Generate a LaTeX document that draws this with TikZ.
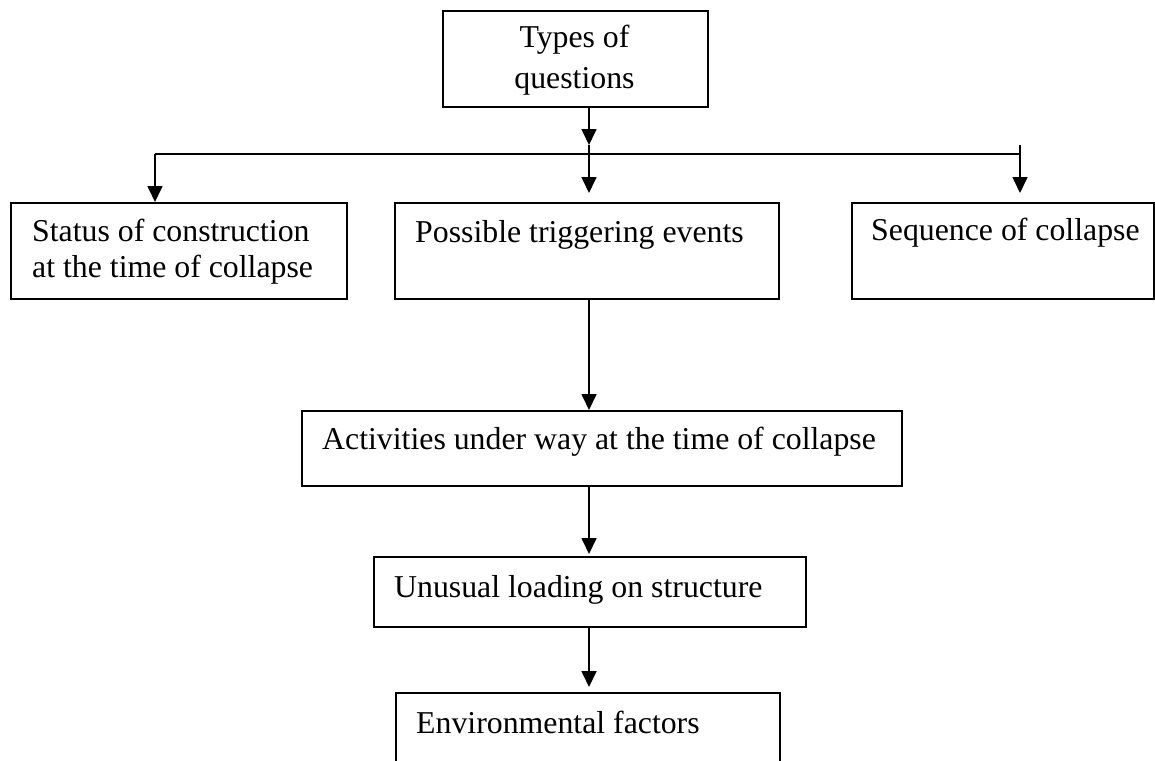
\documentclass[tikz,border=0pt]{standalone}
\usepackage{fontspec}
\setmainfont{Liberation Serif}
\usetikzlibrary{arrows.meta}
\begin{document}
\begin{tikzpicture}[x=1pt,y=-1pt,
  box/.style={draw=black, line width=1.8pt, inner sep=0pt, anchor=north west},
  lbl/.style={inner sep=0pt, anchor=base west, font=\fontsize{31.8pt}{36.5pt}\selectfont},
  arr/.style={line width=1.7pt, -{Triangle[length=16pt,width=15pt]}},
  link/.style={line width=1.7pt}]
\useasboundingbox (0,0) rectangle (1155,760);
\clip (0,0) rectangle (1155,760);

% boxes
\node[box, minimum width=265pt, minimum height=96pt]  (top)         at (442,10)  {};
\node[box, minimum width=336pt, minimum height=96pt]  (status)      at (10,202)  {};
\node[box, minimum width=384pt, minimum height=96pt]  (trigger)     at (394,202) {};
\node[box, minimum width=302pt, minimum height=96pt]  (sequence)    at (851,202) {};
\node[box, minimum width=600pt, minimum height=75pt]  (activities)  at (301,410) {};
\node[box, minimum width=432pt, minimum height=70pt]  (loading)     at (373,556) {};
\node[box, minimum width=384pt, minimum height=110pt] (environment) at (395,692) {};

% texts
\node[lbl, anchor=base, font=\fontsize{31.8pt}{40pt}\selectfont] (ttop) at (574.5,48)
  {\begin{tabular}[t]{@{}c@{}}Types of\\questions\end{tabular}};
\node[lbl] (tstatus) at (32,241)
  {\begin{tabular}[t]{@{}l@{}}Status of construction\\at the time of collapse\end{tabular}};
\node[lbl] (ttrigger)  at (415,242) {Possible triggering events};
\node[lbl] (tsequence) at (871,240) {Sequence of collapse};
\node[lbl] (tactiv)    at (322,449) {Activities under way at the time of collapse};
\node[lbl] (tloading)  at (394,597) {Unusual loading on structure};
\node[lbl] (tenv)      at (416,733) {Environmental factors};

% connector geometry
\coordinate (trunk) at (589,0);
\coordinate (bus)   at (0,154);
\coordinate (stop1) at (589,145);
\coordinate (busL)  at (155,154);
\coordinate (busR)  at (1020,154);
\coordinate (tickR) at (1020,145);

% connectors
\draw[arr] (top.south -| trunk) -- (stop1);
\draw[link] (stop1) -- (trunk |- bus);
\draw[link] (busL) -- (busR);
\draw[arr] (busL) -- (busL |- status.north);
\draw[arr, shorten >=9pt] (trunk |- bus) -- (trigger.north -| trunk);
\draw[arr, shorten >=9pt] (tickR) -- (tickR |- sequence.north);
\draw[arr] (trigger.south -| trunk) -- (activities.north -| trunk);
\draw[arr, shorten >=2pt] (activities.south -| trunk) -- (loading.north -| trunk);
\draw[arr, shorten >=5pt] (loading.south -| trunk) -- (environment.north -| trunk);
\end{tikzpicture}
\end{document}
